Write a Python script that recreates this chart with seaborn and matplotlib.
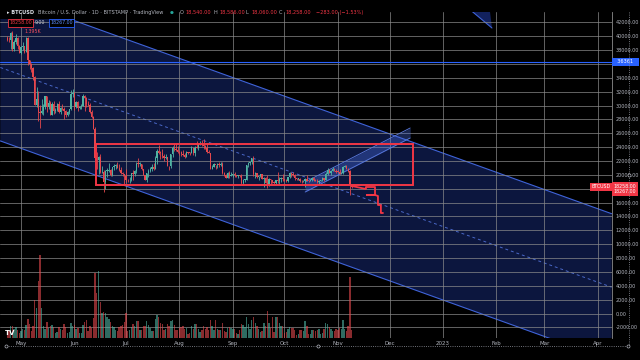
import numpy as np
import pandas as pd
import matplotlib
matplotlib.use("Agg")
import matplotlib.pyplot as plt
import matplotlib.transforms as mtransforms
from matplotlib.lines import Line2D
from matplotlib.patches import Rectangle
import seaborn as sns

# daily BTCUSD candles, 2022-04-23 .. 2022-11-09
days = pd.date_range("2022-04-23", "2022-11-09", freq="D")
first_open = 39700
closes = [
    39450, 39440, 40430, 38110, 39240, 39740, 38600, 37640,
    38470, 38530, 37730, 39690, 36550, 36010, 35470, 34060, 30070, 31010,
    29080, 28930, 29280, 29860, 31330, 29850, 30440, 28700, 30300, 29190,
    29420, 30300, 29100, 29650, 29540, 29200, 28620, 29010, 29450, 31730, 31800,
    29800, 30450, 29700, 29860, 29910, 31370, 31130, 30200, 30110, 29090,
    28420, 26580, 22480, 22140, 22580, 20380, 20460, 19010, 20570, 20570,
    20720, 19970, 21090, 21230, 21490, 21040, 20740, 20280, 20100, 19780,
    19290, 19240, 19300, 20230, 20190, 20550, 21630, 21590, 21590, 20840,
    19950, 19330, 20220, 20580, 20830, 21190, 20790, 22430, 23410, 23220,
    23160, 22680, 22450, 22580, 21310, 21250, 22950, 23850, 23780, 23640, 23300,
    23270, 22980, 22820, 22620, 23310, 23180, 23170, 23810, 23150, 23950,
    23940, 24400, 24440, 24300, 24100, 23860, 23340, 23210, 20830, 21140,
    21520, 21400, 21530, 21370, 21570, 20260, 20030, 19560, 20290, 19800, 20050,
    20130, 19950, 19830, 20000, 19800, 18790, 19290, 19320, 21360, 21650,
    21830, 22400, 20170, 20230, 19700, 19800, 20110, 19420, 19540, 18880,
    18490, 19410, 19290, 18930, 18810, 19220, 19080, 19410, 19590, 19420,
    19310, 19060, 19630, 20340, 20160, 19960, 19530, 19420, 19450, 19130,
    19060, 19160, 19380, 19180, 19070, 19270, 19550, 19330, 19120, 19040,
    19170, 19210, 19570, 19330, 20090, 20770, 20290, 20600, 20820, 20630, 20490,
    20480, 20160, 20210, 21150, 21300, 20920, 20600, 18540, 18258,
]
highs = [
    39980, 39850, 40600, 40780, 39450, 40370, 39920, 38800,
    38670, 39160, 38640, 39940, 39840, 36650, 36100, 35500, 34260, 32650,
    32170, 30030, 30990, 30300, 31420, 31320, 30770, 30660, 30520, 30710,
    29620, 30440, 30640, 29820, 30170, 29860, 29370, 29160, 29560, 32210, 32390,
    31960, 30640, 30680, 29930, 30160, 31720, 31530, 31300, 30650, 30330,
    29430, 28550, 26880, 23300, 22760, 22980, 21320, 20740, 20750, 21040,
    21700, 20860, 21200, 21550, 21580, 21800, 21510, 21170, 20390, 20140,
    20860, 19400, 19650, 20330, 20650, 20640, 21810, 22420, 21930, 21600,
    20880, 20050, 20240, 20860, 21180, 21560, 21650, 22700, 23760, 24280,
    23420, 23740, 22990, 22990, 22640, 21340, 23080, 24190, 24440, 24660, 24160,
    23490, 23450, 23640, 23210, 23450, 23360, 23370, 24230, 23940, 24210,
    24890, 24450, 24880, 25050, 25210, 24260, 24450, 23600, 23220, 21380,
    21680, 21480, 21650, 21850, 21800, 21830, 20350, 20130, 20380, 20560, 20470,
    20190, 20440, 20030, 20010, 20040, 20180, 19460, 19450, 21440, 21790,
    21860, 22480, 22790, 20480, 20330, 19880, 20170, 20100, 19680, 19640,
    19940, 19500, 19480, 19310, 19190, 19300, 20350, 19720, 19640, 20170,
    19480, 19390, 19690, 20460, 20360, 20440, 20060, 19620, 19550, 19520,
    19260, 19220, 19500, 19950, 19230, 19360, 19660, 19700, 19360, 19350,
    19240, 19250, 19690, 19600, 20400, 21000, 20870, 20740, 21080, 20930, 20830,
    20690, 20790, 20390, 21300, 21470, 21360, 21050, 20670, 18590,
]
lows = [
    39300, 39200, 38200, 37900, 37880, 38880, 38200, 37580,
    37390, 38050, 37520, 37670, 35860, 35260, 34790, 33710, 30030, 29760,
    27760, 26700, 28730, 28620, 29480, 29100, 29460, 28630, 28700, 28740,
    28960, 29230, 28920, 28740, 29330, 28040, 28310, 28540, 28850, 29430, 31220,
    29370, 29600, 29270, 29480, 29510, 29880, 29250, 29860, 29960, 28870,
    28150, 26570, 22270, 20850, 20090, 20260, 20260, 17570, 17940, 19650,
    20350, 19780, 19880, 20740, 20900, 21000, 20520, 20190, 19840, 18630,
    19000, 18980, 18780, 19060, 19310, 19790, 20260, 21200, 21340, 20680,
    19920, 19230, 18920, 19640, 20400, 20500, 20760, 20780, 21590, 23030,
    22350, 22500, 21950, 22270, 21270, 20710, 21050, 22620, 23440, 23520, 23230,
    22870, 22680, 22680, 22460, 22580, 23000, 22860, 23150, 22880, 22680,
    23900, 23620, 24300, 24130, 23790, 23700, 23210, 23130, 20790, 20780,
    21080, 20890, 20930, 21170, 21330, 20140, 19810, 19550, 19550, 19550, 19800,
    19640, 19760, 19660, 19600, 19650, 18680, 18540, 19010, 19300, 21100,
    21360, 21560, 19860, 19620, 19520, 19330, 19700, 19370, 18270, 18770,
    18150, 18370, 18560, 18830, 18630, 18680, 18830, 18480, 19000, 19190,
    19170, 18940, 19000, 19510, 19750, 19860, 19330, 19260, 19320, 19030,
    18870, 18990, 18200, 19080, 18990, 19060, 19160, 19110, 19070, 18900,
    18650, 19120, 19090, 19160, 19250, 20050, 20210, 20000, 20550, 20520, 20240,
    20350, 20060, 20060, 20190, 21080, 20890, 20400, 17170, 18060,
]
# volume, thousands of BTC
volumes = [
    1.4, 1.6, 2.8, 3.0, 2.3, 2.6, 2.0, 1.3,
    1.8, 2.2, 2.0, 3.2, 4.5, 3.4, 1.7, 3.0, 9.2, 7.2, 13.7, 20.0, 7.2,
    2.9, 2.2, 3.8, 2.4, 3.0, 3.2, 2.6,
    1.3, 1.5, 2.6, 2.3, 2.0, 3.3, 2.7, 1.2, 1.4, 3.6, 3.0,
    3.2, 2.3, 2.5, 1.1, 1.2, 3.1, 3.8, 4.4, 1.7, 2.8,
    2.4, 4.8, 15.7, 10.8, 16.3, 8.8, 6.0, 6.4, 6.0, 5.0,
    4.6, 3.8, 3.0, 2.7, 1.9, 1.7, 2.6, 2.8, 3.2, 3.9,
    6.0, 1.7, 1.9, 2.7, 3.3, 3.0, 4.0, 4.2, 2.0, 1.9,
    2.8, 3.0, 4.1, 3.2, 2.5, 1.7, 1.8, 4.6, 5.6, 5.0,
    3.6, 3.3, 2.0, 2.1, 3.3, 3.0, 4.0, 4.4, 3.2, 1.9, 2.0,
    2.5, 2.7, 2.8, 2.3, 2.5, 1.0, 1.3, 3.0, 2.3, 3.4,
    3.3, 2.3, 1.5, 2.0, 3.0, 2.1, 2.7, 2.0, 4.4, 3.0,
    1.9, 4.4, 2.3, 2.0, 1.9, 3.6, 1.7, 1.5, 2.5, 2.7, 2.5,
    2.3, 2.1, 1.1, 1.0, 1.9, 3.3, 3.2, 2.7, 5.0, 3.3,
    2.3, 4.3, 5.0, 3.6, 3.0, 2.3, 1.5, 1.7, 3.6, 3.0,
    6.6, 3.6, 2.5, 5.2, 1.5, 5.0, 5.2, 3.6, 2.8, 3.0,
    1.3, 1.5, 2.3, 2.7, 2.5, 2.5, 2.0, 0.8, 0.9, 1.9,
    2.0, 1.7, 4.0, 3.0, 1.0, 0.9, 1.9, 2.0, 1.7, 2.0,
    2.3, 0.9, 1.3, 2.3, 3.6, 3.4, 2.7, 2.3, 1.7, 1.7, 2.3,
    2.0, 2.5, 2.1, 4.4, 2.3, 1.7, 3.0, 14.7, 2.0,
]

month_ticks = pd.date_range("2022-05-01", "2023-04-01", freq="MS")
month_labels = ["May", "Jun", "Jul", "Aug", "Sep", "Oct", "Nov", "Dec",
                "2023", "Feb", "Mar", "Apr"]
price_ticks = list(range(-2000, 42001, 2000))
covered_ticks = [36000, 18000]

# drawings
channel_dates = pd.to_datetime(["2022-04-19", "2023-04-09"])
channel_upper = [46100, 14400]
channel_lower = [24900, -6800]
channel_mid = [35500, 3800]
band_dates = pd.to_datetime(["2022-10-13", "2022-12-13"])
band_upper = [18975, 26770]
band_lower = [17530, 25330]
box_dates = pd.to_datetime(["2022-06-13 13:00", "2022-12-14 14:00"])
box_prices = [18540, 24460]
path_dates = pd.to_datetime(["2022-11-09 05:00", "2022-11-17 07:00", "2022-11-17 07:00",
                             "2022-11-22 14:00", "2022-11-22 14:00", "2022-11-17 20:00",
                             "2022-11-22 14:00", "2022-11-24 07:00",
                             "2022-11-24 07:00", "2022-11-26 00:00", "2022-11-26 00:00",
                             "2022-11-27 05:00"])
path_prices = [18400, 17965, 18254, 18254, 17100, 17100, 17100, 16955,
               15657, 15657, 14502, 14502]
wedge_dates = pd.to_datetime(["2023-01-17 22:00", "2023-01-28 08:00", "2023-01-29 12:00"])
wedge_prices = [43600, 43600, 41200]
level_line = 36361
last_price = 18258

up_col, dn_col = "#4fb3a3", "#e5484d"
grid_col = "#8c8c8c"
blue = "#3f63d8"
red = "#f23645"

sns.set_theme(style="dark", rc={"axes.facecolor": "black", "figure.facecolor": "black",
                                "axes.edgecolor": grid_col})
plt.rcParams["font.family"] = ["DejaVu Sans"]

fig = plt.figure(figsize=(6.4, 3.6), dpi=100)
ax = fig.add_axes([0, 22 / 360, 612 / 640, 326 / 360])
ax.set_xlim(pd.Timestamp("2022-04-18 19:00"), pd.Timestamp("2023-04-09 05:00"))
ax.set_ylim(-3535, 43506)
ax.grid(False)

# channel
ax.fill_between(channel_dates, channel_upper, channel_lower, color="#2a4bd0", alpha=0.3,
                lw=0, zorder=1)
sns.lineplot(x=channel_dates, y=channel_upper, ax=ax, color=blue, lw=0.8, zorder=1.05)
sns.lineplot(x=channel_dates, y=channel_lower, ax=ax, color=blue, lw=0.8, zorder=1.05)
sns.lineplot(x=channel_dates, y=channel_mid, ax=ax, color="#4a68c8", lw=0.7,
             linestyle=(0, (3, 3)), zorder=1.05)
ax.axhspan(42500, 44000, color="black", lw=0, zorder=1.1)

# small wedge at top
ax.fill(wedge_dates, wedge_prices, color="#2a4bd0", alpha=0.45, lw=0, zorder=1.2)
ax.plot(wedge_dates[[0, 2]], [wedge_prices[0], wedge_prices[2]], color=blue, lw=0.8, zorder=1.2)

# grid
for p in price_ticks:
    ax.axhline(p, color=grid_col, lw=0.7, alpha=0.7, zorder=1.3)
for d in month_ticks:
    ax.axvline(d, color=grid_col, lw=0.7, alpha=0.7, zorder=1.3)
ax.axhline(level_line, color="#2962ff", lw=0.8, zorder=1.4)

# rising band
ax.fill_between(band_dates, band_upper, band_lower, color="#4a6fe8", alpha=0.35, lw=0, zorder=2)
ax.plot(band_dates, band_upper, color="#5b7be0", lw=0.6, zorder=2)
ax.plot(band_dates, band_lower, color="#5b7be0", lw=0.6, zorder=2)

# candles
c = np.array(closes, dtype=float)
o = np.array([first_open] + closes[:-1], dtype=float)
colors = np.where(c >= o, up_col, dn_col)
ax.vlines(days, lows, highs, colors=colors, lw=0.6, zorder=3)
ax.bar(days, np.maximum(np.abs(c - o), 80), bottom=np.minimum(o, c), width=0.75,
       color=colors, lw=0, zorder=3.1)

# range box and projected path
ax.add_patch(Rectangle((box_dates[0], box_prices[0]), box_dates[1] - box_dates[0],
                       box_prices[1] - box_prices[0], fill=False, ec=red, lw=1.4, zorder=4))
sns.lineplot(x=path_dates, y=path_prices, ax=ax, sort=False, estimator=None,
             color=red, lw=1.3, zorder=4)

# volume
ax2 = ax.twinx()
ax2.bar(days, volumes, width=0.8, color=colors, alpha=0.6, lw=0)
ax2.set_ylim(0, 79)
ax2.set_yticks([])
ax2.grid(False)
for s in ax2.spines.values():
    s.set_visible(False)

# axes styling
ax.set_xticks(month_ticks)
ax.set_xticklabels(month_labels)
ax.set_yticks(price_ticks)
ax.set_yticklabels(["" if p in covered_ticks else f"{p:.2f}" for p in price_ticks])
ax.yaxis.tick_right()
ax.tick_params(axis="both", length=0, labelcolor="#b2b5be")
ax.tick_params(axis="x", pad=2.5, labelsize=4)
ax.tick_params(axis="y", pad=2.5, labelsize=3.5, labelleft=False, labelright=True)
ax.set_xlabel("")
ax.set_ylabel("")
for s in ["top", "left", "bottom"]:
    ax.spines[s].set_visible(False)
ax.spines["right"].set_color(grid_col)
ax.spines["right"].set_linewidth(0.6)

# price tags
tr = mtransforms.blended_transform_factory(ax.transAxes, ax.transData)
ax.text(1.003, level_line, "  36361   ", transform=tr, ha="left", va="center", fontsize=3.6,
        color="white", clip_on=False, zorder=10,
        bbox=dict(boxstyle="square,pad=0.3", fc="#2962ff", ec="none"))
ax.text(0.997, last_price, "BTCUSD", transform=tr, ha="right", va="center", fontsize=3.4,
        color="white", clip_on=False, zorder=10,
        bbox=dict(boxstyle="square,pad=0.3", fc=red, ec="none"))
ax.text(1.003, 17965, f"{last_price:.2f}\n18267.00", transform=tr, ha="left", va="center",
        fontsize=3.4, linespacing=1.1, color="white", clip_on=False, zorder=10,
        bbox=dict(boxstyle="square,pad=0.3", fc=red, ec="none"))
ax.text(0.04, 0.935, "1.395K", transform=ax.transAxes, fontsize=3.4, color="#f7525f", zorder=10)


def ftext(x, y, s, size=3.6, **kw):
    fig.text(x / 640, 1 - y / 360, s, va="center", fontsize=size, **kw)


# header
ftext(7, 12.5, "▸ BTCUSD", color="#e0e3eb", weight="bold")
ftext(38, 12.5, "Bitcoin / U.S. Dollar · 1D · BITSTAMP · TradingView", color="#b2b5be")
ftext(170, 12.5, "●", size=3.2, color="#26a69a")
for x, s, col in [(180, "O", "#b2b5be"), (186, "18,540.00", red), (213, "H", "#b2b5be"),
                  (219, "18,586.00", red), (246, "L", "#b2b5be"), (251, "18,060.00", red),
                  (279, "C", "#b2b5be"), (285, "18,258.00", red),
                  (316, "−283.00 (−1.53%)", red)]:
    ftext(x, 12.5, s, color=col)
ftext(9, 23, "18258.00", size=3.4, color=red,
      bbox=dict(boxstyle="square,pad=0.3", fc="black", ec=red, lw=0.6))
ftext(35, 23, "9.00", size=3.4, color="#d1d4dc")
ftext(50, 23, "18267.00", size=3.4, color="#5b8cff",
      bbox=dict(boxstyle="square,pad=0.3", fc="black", ec="#2962ff", lw=0.6))
ftext(5, 333, "TV", size=5, color="white", weight="bold")

# dotted guides
fig.add_artist(Line2D([6 / 640, 628 / 640], [1 - 346 / 360] * 2, ls=":", lw=0.6, color="#9598a1"))
fig.add_artist(Line2D([629 / 640] * 2, [1 - 12 / 360, 1 - 346 / 360], ls=":", lw=0.6, color="#9598a1"))
for x, y in [(6, 346), (318, 346), (628, 346), (629, 175)]:
    fig.add_artist(Line2D([x / 640], [1 - y / 360], marker="o", ms=2.2, mfc="black",
                          mec="#b2b5be", mew=0.5))

fig.savefig("out.png", dpi=100, facecolor="black")
